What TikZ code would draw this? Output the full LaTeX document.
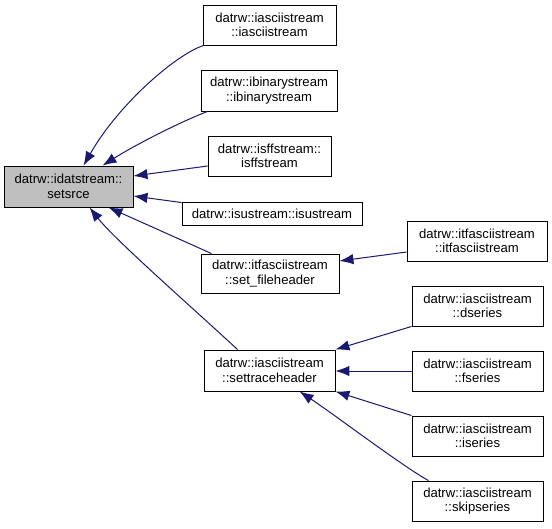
\documentclass[tikz,border=0pt]{standalone}
\usepackage{fontspec}
\setmainfont{Liberation Sans}
\usetikzlibrary{arrows.meta}
\definecolor{edgeblue}{HTML}{191970}
\definecolor{boxgrey}{HTML}{BFBFBF}
\tikzset{
  fbox/.style={draw=black, line width=0.9pt, fill=white, rectangle, align=center, inner sep=0pt,
    font=\fontsize{13.1}{14.5}\selectfont},
  hbox/.style={fbox, fill=boxgrey},
  edge/.style={draw=edgeblue, line width=1pt, -{Latex[length=14pt,width=10.5pt]}},
}
\begin{document}
\begin{tikzpicture}[x=1pt,y=-1pt]
\useasboundingbox (0,0) rectangle (552,528);
\node[hbox, minimum width=129pt, minimum height=41pt] (src) at (68.5,186.5) {datrw::idatstream::\\setsrce};
\node[fbox, minimum width=133pt, minimum height=40pt] (iasc) at (269.5,25) {datrw::iasciistream\\::iasciistream};
\node[fbox, minimum width=136pt, minimum height=41pt] (ibin) at (269,90.5) {datrw::ibinarystream\\::ibinarystream};
\node[fbox, minimum width=123pt, minimum height=40pt] (isff) at (269.5,156) {datrw::isffstream::\\isffstream};
\node[fbox, minimum width=180pt, minimum height=23pt] (isus) at (272,213.5) {datrw::isustream::isustream};
\node[fbox, minimum width=138pt, minimum height=39pt] (sfh) at (270,273.5) {datrw::itfasciistream\\::set\_fileheader};
\node[fbox, minimum width=140pt, minimum height=40pt] (itf) at (477,241) {datrw::itfasciistream\\::itfasciistream};
\node[fbox, minimum width=131pt, minimum height=41pt] (sth) at (269.5,370.5) {datrw::iasciistream\\::settraceheader};
\node[fbox, minimum width=131pt, minimum height=40pt] (ds) at (477.5,306) {datrw::iasciistream\\::dseries};
\node[fbox, minimum width=131pt, minimum height=40pt] (fs) at (477.5,371) {datrw::iasciistream\\::fseries};
\node[fbox, minimum width=131pt, minimum height=40pt] (is) at (477.5,436) {datrw::iasciistream\\::iseries};
\node[fbox, minimum width=131pt, minimum height=40pt] (sk) at (477.5,501) {datrw::iasciistream\\::skipseries};

\draw[edge] ([xshift=1pt]iasc.south west) .. controls (175,55) and (118,105) .. ([xshift=80pt]src.north west);
\draw[edge] ([xshift=7pt]ibin.south west) .. controls (180,122) and (135,145) .. ([xshift=99pt]src.north west);
\draw[edge] ([yshift=-10pt]isff.west) -- ([yshift=10.5pt]src.east);
\draw[edge] ([yshift=-1pt]isus.north west) -- ([yshift=-9.5pt]src.east);
\draw[edge] ([xshift=11pt]sfh.north west) -- ([xshift=105pt]src.south west);
\draw[edge] ([xshift=34pt]sth.north west) .. controls (195,310) and (115,240) .. ([xshift=86pt]src.south west);
\draw[edge] ([yshift=-11pt]itf.west) -- ([yshift=12.5pt]sfh.east);
\draw[edge] (ds.south west) -- (sth.north east);
\draw[edge] (fs.west) -- (fs.west -| sth.east);
\draw[edge] (is.north west) -- (sth.south east);
\draw[edge] ([xshift=17pt]sk.north west) .. controls (405,468) and (335,415) .. ([xshift=96pt]sth.south west);
\end{tikzpicture}
\end{document}
